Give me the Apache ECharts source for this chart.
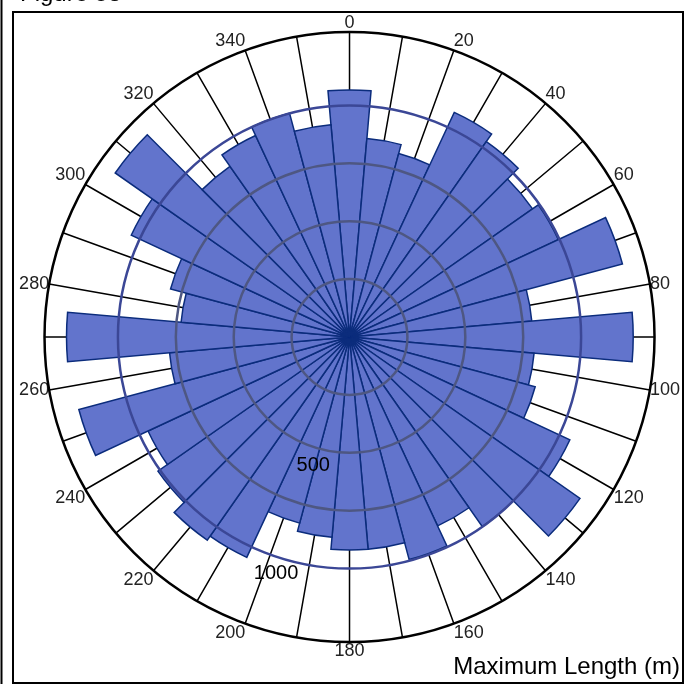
<!DOCTYPE html>
<html>
<head>
<meta charset="utf-8">
<title>Maximum Length rose</title>
<script src="https://cdn.jsdelivr.net/npm/echarts@6/dist/echarts.min.js"></script>
<style>
  html, body { margin: 0; padding: 0; background: #fff; }
  #chart { width: 686px; height: 684px; }
</style>
</head>
<body>
<div id="chart"></div>
<script>
// direction classes (deg, bar centre) and max length in metres
const directions = [0, 10, 20, 30, 40, 50, 60, 70, 80, 90, 100, 110, 120, 130, 140, 150, 160, 170,
  180, 190, 200, 210, 220, 230, 240, 250, 260, 270, 280, 290, 300, 310, 320, 330, 340, 350]
const maxLength = [1067, 860, 820, 1070, 1030, 965, 995, 1220, 790, 1225, 800, 830, 1050, 1215, 1000, 900, 995, 920,
  920, 868, 832, 1050, 1071, 1010, 960, 1210, 780, 1222, 730, 800, 1040, 1235, 900, 960, 1000, 920]
const directionLabels = [0, 20, 40, 60, 80, 100, 120, 140, 160, 180, 200, 220, 240, 260, 280, 300, 320, 340]
const lengthLabels = [500, 1000]
const lengthMax = 1317

const center = ['50.95%', '49.27%']
const radius = 305
const font = 'Liberation Sans, Arial, sans-serif'

const option = {
  animation: false,
  title: [
    {
      text: 'Figure 58',
      left: 20,
      top: -18,
      padding: 0,
      textStyle: { fontSize: 24, fontWeight: 'normal', color: '#000', fontFamily: font }
    },
    {
      text: 'Maximum Length (m)',
      right: 6,
      bottom: 5,
      padding: 0,
      textStyle: { fontSize: 24, fontWeight: 'normal', color: '#000', fontFamily: font }
    }
  ],
  graphic: [
    { type: 'line', shape: { x1: 1.5, y1: 0, x2: 1.5, y2: 684 }, style: { stroke: '#000', lineWidth: 2 } },
    { type: 'rect', shape: { x: 13, y: 12, width: 670, height: 671 }, style: { fill: 'none', stroke: '#000', lineWidth: 2 } }
  ],
  polar: [
    { center: center, radius: radius },
    { center: center, radius: radius },
    // only carries the 500 / 1000 labels, laid along a ray slightly past 180 deg
    { center: ['51.09%', '52.27%'], radius: 301 }
  ],
  angleAxis: [
    {
      polarIndex: 0,
      type: 'category',
      data: directions,
      startAngle: 95,
      clockwise: true,
      axisLine: { show: false },
      axisTick: { show: false },
      axisLabel: { show: false },
      splitLine: { show: false }
    },
    {
      polarIndex: 1,
      type: 'value',
      min: 0,
      max: 360,
      interval: 10,
      startAngle: 90,
      clockwise: true,
      axisLine: { lineStyle: { color: '#000', width: 2.5 } },
      axisTick: { show: false },
      axisLabel: {
        margin: 0,
        fontSize: 18,
        color: '#222',
        fontFamily: font,
        formatter: v => (directionLabels.includes(v) ? String(v) : '')
      },
      splitLine: { lineStyle: { color: '#000', width: 1.5 } }
    },
    {
      polarIndex: 2,
      type: 'value',
      min: 0,
      max: 360,
      startAngle: 251,
      show: false
    }
  ],
  radiusAxis: [
    {
      polarIndex: 0,
      min: 0,
      max: lengthMax,
      interval: 250,
      z: 5,
      axisLine: { show: false },
      axisTick: { show: false },
      axisLabel: { show: false },
      splitLine: {
        lineStyle: {
          color: ['rgba(0,0,0,0)', '#4e5782', '#4e5782', '#4e5782', '#3b4796', 'rgba(0,0,0,0)', 'rgba(0,0,0,0)'],
          width: 2.5
        }
      }
    },
    { polarIndex: 1, min: 0, max: lengthMax, show: false },
    {
      polarIndex: 2,
      min: 0,
      max: lengthMax,
      interval: 250,
      z: 6,
      axisLine: { show: false },
      axisTick: { show: false },
      splitLine: { show: false },
      axisLabel: {
        margin: 0,
        align: 'center',
        verticalAlign: 'middle',
        hideOverlap: false,
        fontSize: 20,
        color: '#000',
        fontFamily: font,
        formatter: v => (lengthLabels.includes(v) ? String(v) : '')
      }
    }
  ],
  series: [
    {
      type: 'bar',
      coordinateSystem: 'polar',
      polarIndex: 0,
      data: maxLength,
      barCategoryGap: '0%',
      itemStyle: { color: '#6274cc', borderColor: '#0b2c7c', borderWidth: 1.5 }
    }
  ]
}

const chart = echarts.init(document.getElementById('chart'))
chart.setOption(option)
</script>
</body>
</html>
